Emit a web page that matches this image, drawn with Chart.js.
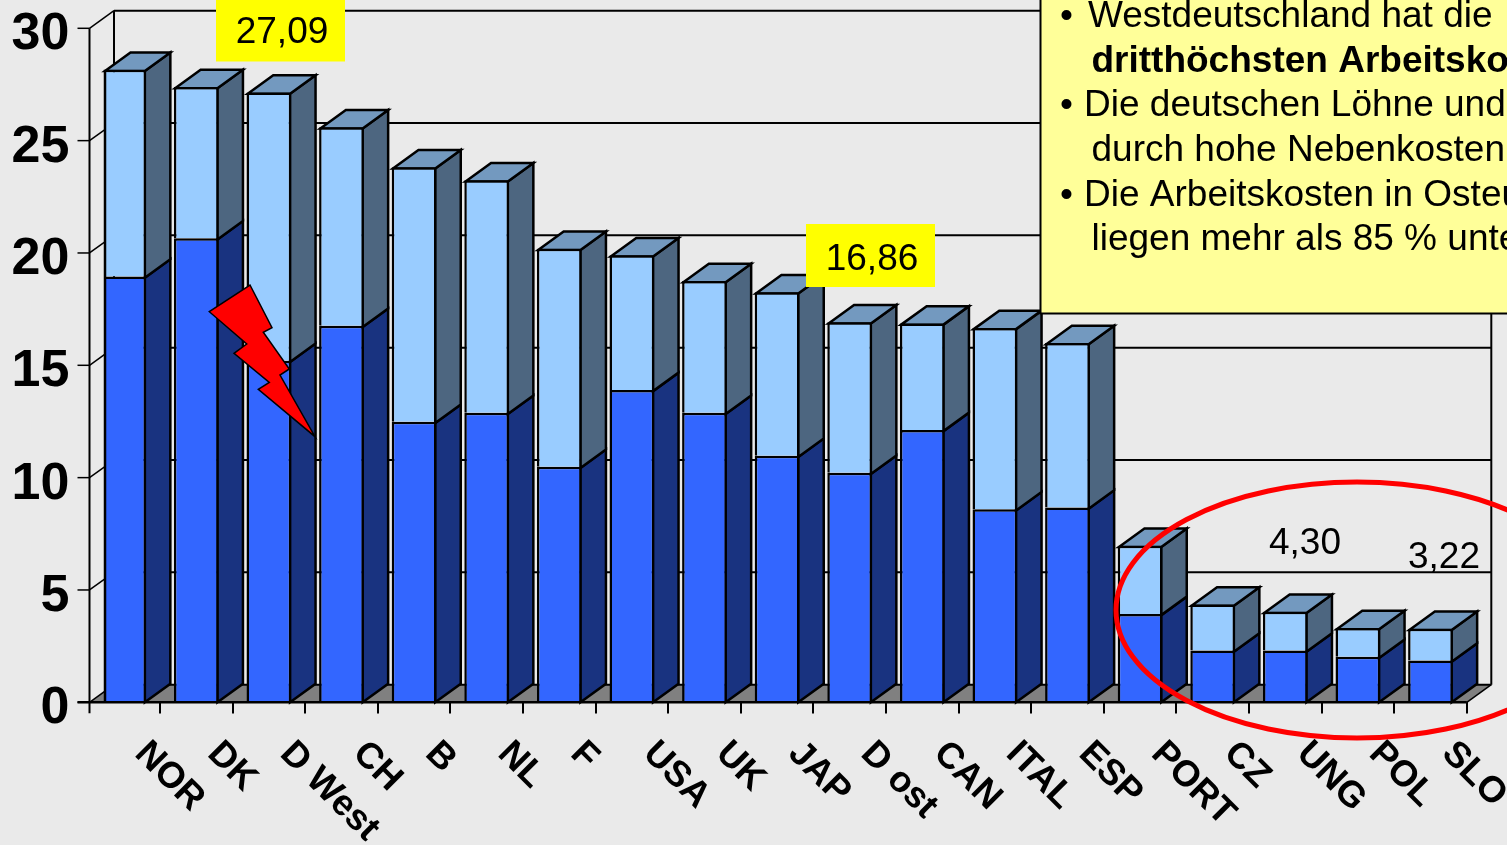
<!DOCTYPE html>
<html lang="de">
<head>
<meta charset="utf-8">
<title>Arbeitskosten im internationalen Vergleich</title>
<style>
html,body{margin:0;padding:0;background:#EAEAEA;overflow:hidden}
canvas{display:block}
</style>
<script src="https://cdn.jsdelivr.net/npm/chart.js@4"></script>
</head>
<body>
<canvas id="chart" width="1507" height="845"></canvas>
<script>
// Hourly labour cost per country: base pay (lower block) and additional costs (upper block)
const categories = ["NOR","DK","D West","CH","B","NL","F","USA","UK","JAP","D ost","CAN","ITAL","ESP","PORT","CZ","UNG","POL","SLO"];
const basePay    = [18.9,20.6,15.15,16.7,12.43,12.83,10.43,13.85,12.83,10.92,10.16,12.07,8.54,8.62,3.88,2.25,2.25,1.97,1.80];
const extraCosts = [9.2,6.73,11.94,8.84,11.33,10.35,9.7,5.99,5.87,7.28,6.70,4.74,8.07,7.32,3.03,2.05,1.72,1.28,1.42];
const yTicks = [0,5,10,15,20,25,30];
const noteLines = [
  {bullet:true,  text:"Westdeutschland hat die", x:1088, y:27, bold:false},
  {bullet:false, text:"dritthöchsten Arbeitsko", x:1091.5, y:72, bold:true},
  {bullet:true,  text:"Die deutschen Löhne und", x:1084, y:116, bold:false},
  {bullet:false, text:"durch hohe Nebenkosten", x:1091.5, y:161, bold:false},
  {bullet:true,  text:"Die Arbeitskosten in Osteu", x:1084, y:206, bold:false},
  {bullet:false, text:"liegen mehr als 85 % unte", x:1091.5, y:250, bold:false}
];

const SANS = '"Liberation Sans", Arial, sans-serif';
const BLACK = "#000000";
const WALL = {dx:24.5, dy:17.6};      // depth of the side wall and floor
const BAR  = {dx:25.5, dy:18.5};      // depth of each column
const AXIS_X = 89.5, FIRST_BAR_EDGE = 105;
const EDGE = 2.5;                     // column outline width
const INSET = EDGE/2;                 // outlines sit inside the bar rectangle

function poly(ctx, pts, fill, stroke, width){
  ctx.beginPath();
  pts.forEach((p,i)=> i ? ctx.lineTo(p[0],p[1]) : ctx.moveTo(p[0],p[1]));
  ctx.closePath();
  if (fill){ ctx.fillStyle = fill; ctx.fill(); }
  if (stroke){ ctx.strokeStyle = stroke; ctx.lineWidth = width; ctx.lineJoin = "miter"; ctx.stroke(); }
}
function line(ctx, x1,y1,x2,y2,w){
  ctx.beginPath(); ctx.moveTo(x1,y1); ctx.lineTo(x2,y2);
  ctx.strokeStyle = BLACK; ctx.lineWidth = w; ctx.stroke();
}

// Back wall, side wall and floor behind the columns
function drawRoom(chart){
  const {ctx, scales:{x,y}} = chart;
  const right = x.right;
  const base = y.getPixelForValue(0) + INSET;
  poly(ctx, [[AXIS_X,base],[AXIS_X+WALL.dx,base-WALL.dy],[right+WALL.dx,base-WALL.dy],[right,base]], "#808080");
  yTicks.forEach(v=>{
    const py = y.getPixelForValue(v) + INSET;
    line(ctx, AXIS_X+WALL.dx, py-WALL.dy, right+WALL.dx, py-WALL.dy, 2);
    line(ctx, AXIS_X, py, AXIS_X+WALL.dx, py-WALL.dy, 1.5);
    line(ctx, AXIS_X-12, py, AXIS_X, py, 1.5);
  });
  const top = y.getPixelForValue(30) + INSET;
  line(ctx, AXIS_X+WALL.dx, top-WALL.dy, AXIS_X+WALL.dx, base-WALL.dy, 2);
  line(ctx, right+WALL.dx, top-WALL.dy, right+WALL.dx, base-WALL.dy, 2);
  line(ctx, AXIS_X, top, AXIS_X, base+11, 2);
  line(ctx, right, base, right+WALL.dx, base-WALL.dy, 1.5);
}

// Side and top faces of every column, taken from the bar elements
function drawColumnFaces(chart){
  const {ctx} = chart;
  const lower = chart.getDatasetMeta(0).data;
  const upper = chart.getDatasetMeta(1).data;
  lower.forEach((bar,i)=>{
    const yBase = bar.base + INSET, ySplit = bar.y + INSET, yTop = upper[i].y + INSET;
    const xr = bar.x + bar.width/2 - INSET;
    const xl = Math.max(bar.x - bar.width/2 + INSET, FIRST_BAR_EDGE);
    poly(ctx, [[xr,yBase],[xr+BAR.dx,yBase-BAR.dy],[xr+BAR.dx,ySplit-BAR.dy],[xr,ySplit]], "#193380", BLACK, EDGE);
    poly(ctx, [[xr,ySplit],[xr+BAR.dx,ySplit-BAR.dy],[xr+BAR.dx,yTop-BAR.dy],[xr,yTop]], "#4D6680", BLACK, EDGE);
    poly(ctx, [[xl,yTop],[xl+BAR.dx,yTop-BAR.dy],[xr+BAR.dx,yTop-BAR.dy],[xr,yTop]], "#7399BF", BLACK, EDGE);
  });
}

const roomPlugin = {
  id:"room",
  beforeDatasetsDraw(chart){
    drawRoom(chart);
    drawColumnFaces(chart);
    // the first column starts just clear of the side wall
    const {ctx, chartArea} = chart;
    ctx.save();
    ctx.beginPath();
    ctx.rect(FIRST_BAR_EDGE, 0, chartArea.right-FIRST_BAR_EDGE, 845);
    ctx.clip();
  },
  afterDatasetsDraw(chart){
    const {ctx, scales:{x,y}} = chart;
    ctx.restore();
    const base = y.getPixelForValue(0) + INSET;
    const first = chart.getDatasetMeta(1).data[0];
    line(ctx, FIRST_BAR_EDGE, first.y, FIRST_BAR_EDGE, base, EDGE);
    line(ctx, AXIS_X-12, base, x.right, base, 2.5);
  }
};

const annotationPlugin = {
  id:"annotations",
  afterDraw(chart){
    const {ctx, scales:{x}} = chart;

    // rotated country names, starting under each column
    ctx.save();
    ctx.fillStyle = BLACK;
    ctx.font = "bold 36.5px " + SANS;
    ctx.textAlign = "left";
    ctx.textBaseline = "middle";
    categories.forEach((name,i)=>{
      ctx.save();
      ctx.translate(x.getPixelForValue(i)+17, 748);
      ctx.rotate(Math.PI/4);
      ctx.fillText(name, 0, 0);
      ctx.restore();
    });
    ctx.restore();

    // value call-outs
    const callout = (text, cx, cy, box) => {
      if (box){ ctx.fillStyle = "#FFFF00"; ctx.fillRect(box[0],box[1],box[2],box[3]); }
      ctx.fillStyle = BLACK;
      ctx.font = "37px " + SANS;
      ctx.textAlign = "center";
      ctx.textBaseline = "middle";
      ctx.fillText(text, cx, cy);
    };
    callout("27,09", 282, 33, [216,0,129,61.5]);
    callout("16,86", 872, 260, [806,224,129,63]);
    callout("4,30", 1305, 544);
    callout("3,22", 1444, 558);

    // lightning bolt pointing at the west German column
    poly(ctx, [[250,285],[272,327.7],[263.3,332.3],[289.3,369],[280,375],[315,436.7],[258.3,389.3],[269.3,382.3],[234,353.3],[246.7,344],[209.3,311.7]], "#FF0000", BLACK, 1.5);

    // ring around the eastern European countries
    ctx.beginPath();
    ctx.ellipse(1357, 610, 241, 128, 0, 0, Math.PI*2);
    ctx.strokeStyle = "#FF0000";
    ctx.lineWidth = 5;
    ctx.stroke();

    // note box
    ctx.fillStyle = "#FFFF99";
    ctx.fillRect(1040.5, -2, 480, 315.5);
    ctx.strokeStyle = BLACK;
    ctx.lineWidth = 2;
    ctx.strokeRect(1040.5, -2, 480, 315.5);
    ctx.textAlign = "left";
    ctx.textBaseline = "alphabetic";
    ctx.fillStyle = BLACK;
    noteLines.forEach(l=>{
      ctx.font = "37px " + SANS;
      if (l.bullet) ctx.fillText("•", 1060, l.y);
      ctx.font = (l.bold ? "bold " : "") + "37px " + SANS;
      ctx.fillText(l.text, l.x, l.y);
    });
  }
};

new Chart(document.getElementById("chart"), {
  type:"bar",
  data:{
    labels:categories,
    datasets:[
      {label:"Direktentgelt", data:basePay, backgroundColor:"#3366FF", borderColor:BLACK, borderWidth:EDGE, inflateAmount:0, barPercentage:0.617, categoryPercentage:1},
      {label:"Nebenkosten", data:extraCosts, backgroundColor:"#99CCFF", borderColor:BLACK, borderWidth:EDGE, inflateAmount:0, barPercentage:0.617, categoryPercentage:1}
    ]
  },
  options:{
    responsive:false,
    animation:false,
    layout:{padding:{top:28.3-INSET,right:40.2,left:0,bottom:0}},
    plugins:{legend:{display:false},tooltip:{enabled:false},title:{display:false}},
    scales:{
      x:{
        stacked:true,
        offset:true,
        border:{display:false},
        ticks:{display:false},
        grid:{offset:true,drawOnChartArea:false,drawTicks:true,tickLength:12.5,lineWidth:2,
              color:c=>c.index===0?"rgba(0,0,0,0)":BLACK},
        afterFit(s){ s.height = 142.7+INSET; }
      },
      y:{
        stacked:true,
        min:0,max:30,
        border:{display:false},
        grid:{display:false,drawTicks:false},
        ticks:{stepSize:5,padding:18,labelOffset:8,color:BLACK,font:{family:SANS,size:52,weight:"bold",lineHeight:1}},
        afterFit(s){ s.width = 87.4; s.paddingTop = 0; s.paddingBottom = 0; }
      }
    }
  },
  plugins:[roomPlugin,annotationPlugin]
});
</script>
</body>
</html>
